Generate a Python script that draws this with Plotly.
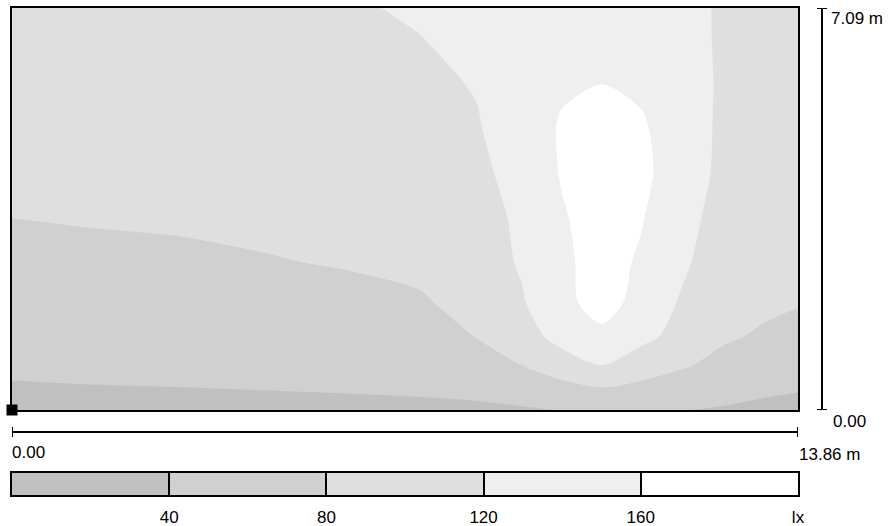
import plotly.graph_objects as go

# Room extent (m)
room_length = 13.86
room_width = 7.09

# Calculation grid (m)
grid_x = [0, 1.5, 3.0, 4.5, 6.0, 7.2, 8.2, 9.0, 9.7, 10.4, 11.1, 11.8, 12.5, 13.2, 13.86]
grid_y = [0, 0.4, 0.8, 1.3, 1.9, 2.6, 3.4, 4.2, 5.0, 5.8, 6.5, 7.09]

# Illuminance (lx) per grid column, from y = 0 upwards
lux_x0000 = [30, 37, 47, 56, 64, 72, 80.2, 87, 92, 96, 99, 101]
lux_x0150 = [32, 39, 48, 58, 66, 74, 82, 89, 95, 99, 102, 104]
lux_x0300 = [33, 40, 49, 59, 68, 76, 83, 91, 97, 101, 104, 106]
lux_x0450 = [34, 41, 51, 61, 70, 78.5, 86, 94, 101, 106, 109, 111]
lux_x0600 = [35, 42, 53, 63, 73, 82, 90, 98, 105, 111, 115, 117]
lux_x0720 = [36, 43, 55, 66, 76, 89, 95, 103, 109, 114, 119, 124]
lux_x0820 = [36, 46, 62, 81, 93, 102, 108, 113, 118, 122, 128, 131]
lux_x0900 = [38, 50, 81, 102, 117, 124, 126, 132, 137, 140, 141, 141]
lux_x0970 = [40.5, 70, 101, 135, 152, 154, 157, 163, 164, 154, 147, 143]
lux_x1040 = [48, 81, 121, 153, 172, 172, 175, 176, 174, 159, 150, 146]
lux_x1110 = [44, 72, 100, 130, 150, 156, 162, 166, 163, 155, 147, 143]
lux_x1180 = [41, 62, 85, 108, 116, 128, 137, 146, 146, 146, 144, 142]
lux_x1250 = [37, 55, 70, 86, 90, 96, 104, 111, 113, 114, 113, 113]
lux_x1320 = [35, 45, 60, 76, 88, 93, 98, 102, 104, 105, 105, 105]
lux_x1386 = [33, 42, 55, 68, 82, 89, 94, 97, 99, 100, 100, 100]

lux_columns = [lux_x0000, lux_x0150, lux_x0300, lux_x0450, lux_x0600, lux_x0720,
               lux_x0820, lux_x0900, lux_x0970, lux_x1040, lux_x1110, lux_x1180,
               lux_x1250, lux_x1320, lux_x1386]

# Isolux levels and grey shades of the bands between them
iso_levels = [40, 80, 120, 160]
band_colors = ["#c0c0c0", "#d0d0d0", "#dfdfdf", "#efefef", "#ffffff"]
legend_labels = ["40", "80", "120", "160", "lx"]

# rows of z follow grid_y
z = [[col[j] for col in lux_columns] for j in range(len(grid_y))]

step = iso_levels[1] - iso_levels[0]
n_bands = len(band_colors)
colorscale = [[i / (n_bands - 1), c] for i, c in enumerate(band_colors)]
legend_edges = [iso_levels[0] - step] + iso_levels + [iso_levels[-1] + step]
legend_mid = [(a + b) / 2 for a, b in zip(legend_edges[:-1], legend_edges[1:])]

# Page geometry in pixels
W, H = 889, 526
M_L, M_R, M_T, M_B = 12, 91, 8, 31
plot_w = W - M_L - M_R
plot_h = H - M_T - M_B


def px(x):
    return (x - M_L) / plot_w


def py(y):
    return (H - M_B - y) / plot_h


FONT = "Liberation Sans, Arial, sans-serif"
FS = 17
INK = "#000000"

fig = go.Figure()

fig.add_trace(go.Contour(
    x=grid_x, y=grid_y, z=z,
    contours=dict(start=iso_levels[0], end=iso_levels[-1], size=step,
                  coloring="fill", showlines=False),
    colorscale=colorscale,
    line=dict(width=0, smoothing=0.8),
    showscale=False,
    hoverinfo="skip",
))

# reference point at the room origin
fig.add_trace(go.Scatter(
    x=[0], y=[0], mode="markers",
    marker=dict(symbol="square", size=11, color=INK),
    cliponaxis=False, hoverinfo="skip", showlegend=False,
))

# band legend
fig.add_trace(go.Heatmap(
    x=legend_edges, y=[0, 1], z=[legend_mid],
    colorscale=colorscale, zmin=legend_mid[0], zmax=legend_mid[-1],
    showscale=False, hoverinfo="skip",
    xaxis="x2", yaxis="y2",
))

frame = dict(showline=True, mirror=True, linecolor=INK, linewidth=2,
             showgrid=False, zeroline=False, automargin=False)

fig.update_layout(
    width=W, height=H,
    margin=dict(l=M_L, r=M_R, t=M_T, b=M_B, pad=0, autoexpand=False),
    paper_bgcolor="white", plot_bgcolor="white",
    showlegend=False,
    font=dict(family=FONT, size=FS, color=INK),
    xaxis=dict(domain=[0, 1], range=[0, room_length], showticklabels=False,
               ticks="", anchor="y", **frame),
    yaxis=dict(domain=[py(410), 1], range=[0, room_width], showticklabels=False,
               ticks="", anchor="x", **frame),
    xaxis2=dict(domain=[0, 1], range=[legend_edges[0], legend_edges[-1]],
                anchor="y2", tickvals=legend_edges[1:], ticktext=legend_labels,
                ticks="inside", ticklen=22, tickwidth=2, tickcolor=INK,
                ticklabelstandoff=6,
                tickfont=dict(family=FONT, size=FS, color=INK), **frame),
    yaxis2=dict(domain=[0, py(473)], range=[0, 1], showticklabels=False,
                ticks="", anchor="x2", **frame),
)

line_style = dict(color=INK, width=2)
bar_y = py(432)
tick_half = 5 / plot_h
shapes = [
    # horizontal dimension line
    dict(type="line", xref="x", yref="paper", x0=0, x1=room_length,
         y0=bar_y, y1=bar_y, line=line_style),
    dict(type="line", xref="x", yref="paper", x0=0, x1=0,
         y0=bar_y - tick_half, y1=bar_y + tick_half, line=line_style),
    dict(type="line", xref="x", yref="paper", x0=room_length, x1=room_length,
         y0=bar_y - tick_half, y1=bar_y + tick_half, line=line_style),
    # vertical dimension line
    dict(type="line", xref="paper", yref="y", x0=px(822), x1=px(822),
         y0=0, y1=room_width, line=line_style),
    dict(type="line", xref="paper", yref="y", x0=px(817), x1=px(827),
         y0=0, y1=0, line=line_style),
    dict(type="line", xref="paper", yref="y", x0=px(817), x1=px(827),
         y0=room_width, y1=room_width, line=line_style),
]
fig.update_layout(shapes=shapes)

txt = dict(showarrow=False, font=dict(family=FONT, size=FS, color=INK),
           xanchor="left", yanchor="middle")
fig.add_annotation(x=0, xref="x", y=py(452), yref="paper",
                   text=f"{0:.2f}", xshift=-2, **txt)
fig.add_annotation(x=room_length, xref="x", y=py(454), yref="paper",
                   text=f"{room_length:.2f} m", xshift=-1, **txt)
fig.add_annotation(x=px(829), xref="paper", y=room_width, yref="y",
                   text=f"{room_width:.2f} m", yshift=-10, **txt)
fig.add_annotation(x=px(831), xref="paper", y=0, yref="y",
                   text=f"{0:.2f}", yshift=-11, **txt)

fig.write_html("out.html")
